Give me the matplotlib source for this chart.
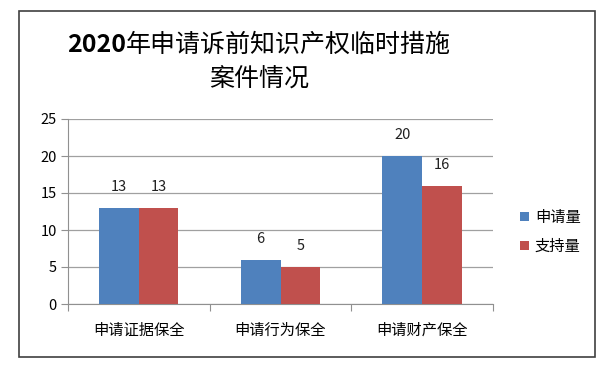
import matplotlib
matplotlib.use("Agg")
import matplotlib.pyplot as plt
from matplotlib.patches import Rectangle
import numpy as np

plt.rcParams['font.family'] = ['Noto Sans CJK SC', 'DejaVu Sans']

categories = ["申请证据保全", "申请行为保全", "申请财产保全"]
applied = [13, 6, 20]
supported = [13, 5, 16]
series_names = ["申请量", "支持量"]
colors = ["#4F81BD", "#C0504D"]
yticks = [0, 5, 10, 15, 20, 25]

W, H = 616, 371
fig = plt.figure(figsize=(W / 100, H / 100), dpi=100)
fig.patch.set_facecolor("white")

# outer chart frame
fig.patches.append(Rectangle((19 / W, 1 - 357 / H), (595 - 19) / W, (357 - 11) / H,
                             transform=fig.transFigure, fill=False,
                             edgecolor="#404040", linewidth=1.2))

ax = fig.add_axes([68 / W, 1 - 304 / H, (493 - 68) / W, (304 - 119) / H])
x = np.arange(len(categories))
bw = 0.28
b1 = ax.bar(x - bw / 2, applied, bw, color=colors[0], label=series_names[0], zorder=3)
b2 = ax.bar(x + bw / 2, supported, bw, color=colors[1], label=series_names[1], zorder=3)
for bars in (b1, b2):
    ax.bar_label(bars, padding=10, fontsize=10.5, color="#202020")

ax.set_xlim(-0.5, len(categories) - 0.5)
ax.set_ylim(0, 25)
ax.set_yticks(yticks)
ax.set_yticklabels([str(t) for t in yticks], fontsize=10.5)
ax.yaxis.grid(True, color="#a0a0a0", linewidth=0.9, zorder=0)
ax.set_xticks(np.arange(-0.5, len(categories), 1.0))
ax.set_xticklabels([])
ax.set_xticks(x, minor=True)
ax.set_xticklabels(categories, minor=True, fontsize=11)
ax.tick_params(axis="x", which="minor", length=0, pad=13)
ax.tick_params(axis="x", which="major", length=5, color="#909090")
ax.tick_params(axis="y", length=5, color="#909090", pad=3)
for s in ("top", "right"):
    ax.spines[s].set_visible(False)
for s in ("left", "bottom"):
    ax.spines[s].set_color("#909090")

ax.legend(loc="center left", bbox_to_anchor=(1.03, 0.39), frameon=False,
          fontsize=11, handlelength=0.6, handleheight=0.6, handletextpad=0.4,
          labelspacing=0.8)

# title: bold year + normal text
fig.canvas.draw()
r = fig.canvas.get_renderer()
cx = 259
t1 = fig.text(0, 1 - 45 / H, "2020", fontsize=18, fontweight="bold",
              family=["Noto Sans CJK SC", "DejaVu Sans"], va="center")
t2 = fig.text(0, 1 - 45 / H, "年申请诉前知识产权临时措施", fontsize=18,
              va="center")
w1 = t1.get_window_extent(r).width
w2 = t2.get_window_extent(r).width
start = cx - (w1 + w2) / 2
t1.set_x(start / W)
t2.set_x((start + w1) / W)
fig.text(cx / W, 1 - 79 / H, "案件情况", fontsize=18, ha="center", va="center")

fig.savefig("out.png", dpi=100)
